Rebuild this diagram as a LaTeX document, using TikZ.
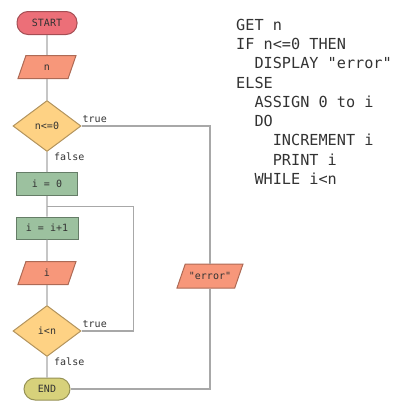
\documentclass[tikz,border=0pt]{standalone}
\usepackage{fontspec}
\setmonofont{DejaVu Sans Mono}
\usepackage{xcolor}
\definecolor{start-red}{HTML}{EC6F78}
\definecolor{io-salmon}{HTML}{F7977A}
\definecolor{test-yellow}{HTML}{FED284}
\definecolor{step-green}{HTML}{9CC19F}
\definecolor{end-olive}{HTML}{D7D17B}
\definecolor{flow-gray}{HTML}{A8A8A8}
\definecolor{ink}{HTML}{333333}
\usetikzlibrary{shapes.geometric,calc}

\begin{document}
\begin{tikzpicture}[x=1pt,y=-1pt,
	flow/.style={line width=1.3pt,flow-gray},
	terminal/.style={rectangle,rounded corners=11pt,line width=1pt,
		font=\ttfamily\fontsize{10}{12}\selectfont,text=ink},
	io/.style={trapezium,trapezium left angle=71,trapezium right angle=109,
		trapezium stretches body,minimum width=58pt,
		text height=8pt,text depth=2pt,inner xsep=0pt,inner ysep=6.5pt,
		fill=io-salmon,draw=io-salmon!70!black,line width=1pt,
		font=\ttfamily\fontsize{10}{12}\selectfont,text=ink},
	test/.style={diamond,minimum width=68pt,minimum height=51pt,inner sep=0pt,
		fill=test-yellow,draw=test-yellow!70!black,line width=1pt,
		font=\ttfamily\fontsize{10}{12}\selectfont,text=ink},
	stepbox/.style={rectangle,minimum width=61pt,minimum height=23pt,inner sep=0pt,
		fill=step-green,draw=step-green!65!black,line width=1pt,
		font=\ttfamily\fontsize{10}{12}\selectfont,text=ink},
	cond/.style={font=\ttfamily\fontsize{10}{12}\selectfont,text=ink,inner sep=1pt}]
	
	\useasboundingbox (0,0) rectangle (410,410);
	
	\coordinate (P1) at (47,23);  % start
	\coordinate (P2) at (47,67);  % read n
	\coordinate (P3) at (47,126); % first test
	\coordinate (P4) at (47,184); % i = 0
	\coordinate (P5) at (47,228); % i = i+1
	\coordinate (P6) at (47,273); % print i
	\coordinate (P7) at (47,331); % loop test
	\coordinate (P8) at (47,389); % end
	\coordinate (P9) at (210,276); % error
	
	\node[terminal,fill=start-red,draw=start-red!70!black,minimum width=60pt,minimum height=23pt]
		(start) at (P1) {START};
	\node[io] (getn) at (P2) {n};
	\node[test] (ifn) at (P3) {n<=0};
	\node[stepbox] (init) at (P4) {i = 0};
	\node[stepbox,minimum width=62pt,minimum height=22pt] (incr) at (P5) {i = i+1};
	\node[io] (outi) at (P6) {i};
	\node[test] (whilei) at (P7) {i<n};
	\node[terminal,fill=end-olive,draw=end-olive!70!black,minimum width=46pt,minimum height=22pt]
		(stop) at (P8) {END};
	\node[io,minimum width=66pt,inner ysep=7pt] (err) at (P9) {"error"};
	
	\coordinate (J) at ($(init.south)!.5!(incr.north)$);
	
	\draw[flow] (start)--(getn)--(ifn)--(init)--(incr)--(outi)--(whilei)--(stop);
	\draw[flow] (ifn.east) -| (err);
	\draw[flow] (err) |- (stop.east);
	\draw[flow] (whilei.east) -- ++(52,0) |- (J);
	
	\node[cond,anchor=south west] at ([yshift=2pt]ifn.east) {true};
	\node[cond,anchor=north west] at ([xshift=6pt,yshift=0pt]ifn.south) {false};
	\node[cond,anchor=south west] at ([yshift=2pt]whilei.east) {true};
	\node[cond,anchor=north west] at ([xshift=6pt,yshift=0pt]whilei.south) {false};
	
	\node[anchor=north west,inner sep=0pt,align=left,text=ink,
		font=\ttfamily\fontsize{15.2}{19.25}\selectfont] (code) at (236,19)
		{GET n\\
		 IF n<=0 THEN\\
		 ~~DISPLAY "error"\\
		 ELSE\\
		 ~~ASSIGN 0 to i\\
		 ~~DO\\
		 ~~~~INCREMENT i\\
		 ~~~~PRINT i\\
		 ~~WHILE i<n};
	
\end{tikzpicture}
\end{document}
